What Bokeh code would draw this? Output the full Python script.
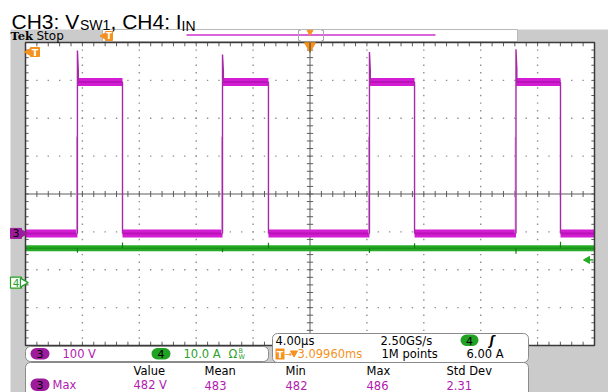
import numpy as np
from bokeh.plotting import figure
from bokeh.models import Range1d
from bokeh.core.properties import value
from bokeh.embed import file_html
from bokeh.resources import INLINE

# ---------------- values ----------------
time_scale_us = 4.0          # µs / div
ch3_scale_v = 100.0          # V / div
ch4_scale_a = 10.0           # A / div
ch3_pos_div = -1.04          # ground marker of CH3 (divisions from centre)
ch4_pos_div = -2.34          # ground marker of CH4

rise_us = [-16.35, -6.15, 4.18, 14.48]      # V_SW1 rising edges
fall_us = [-13.18, -2.92, 7.35, 17.61]      # V_SW1 falling edges
vsw_low_v = 0.0
vsw_high_v = 400.0
vsw_spike_v = [483, 472, 479, 486]           # overshoot at each rising edge
vsw_ring_v = [432, 428, 430, 434]
vsw_pre_v = 255.0                            # faint pre-edge step

iin_a = 9.1                                  # I_IN level
iin_dip_a = [7.9, 8.0, 7.8, 7.6]             # glitch at rising edges
iin_peak_a = [10.6, 10.5, 10.4, 10.8]        # glitch at falling edges
trig_level_a = 6.0

title_parts = ["CH3: V", "SW1", ", CH4: I", "IN"]
ch_labels = ["100 V", "10.0 A"]
tb_row1 = ["4.00µs", "2.50GS/s"]
tb_row2 = ["3.09960ms", "1M points", "6.00 A"]
meas_headers = ["Value", "Mean", "Min", "Max", "Std Dev"]
meas_values = ["482 V", "483", "482", "486", "2.31"]

# ---------------- colours ----------------
GRAY = "#cbcbcb"
ORANGE = "#f5921e"
MAG = "#d41cd4"
MAG_DARK = "#9c0a9a"
MAG_TXT = "#b01cb0"
MAG_PILL = "#9c1c9c"
GRN = "#26ab26"
GRN_DARK = "#147e14"
GRN_TXT = "#2c9f2c"
GRN_PILL = "#22a222"
FONT = "DejaVu Sans"

# ---------------- layout (pixels) ----------------
W, H = 608, 392
FX0, FX1, FY0, FY1 = 25, 594, 42, 345
pxd_x = (FX1 - FX0) / 10.0
pxd_y = (FY1 - FY0) / 8.0
cx = (FX0 + FX1) / 2.0
cy = (FY0 + FY1) / 2.0

p = figure(width=W, height=H, x_range=Range1d(0, W), y_range=Range1d(H, 0),
           output_backend="svg", toolbar_location=None, min_border=0,
           x_axis_type=None, y_axis_type=None)
p.outline_line_color = None
p.background_fill_color = "white"
p.border_fill_color = "white"

t_lo = (0 - cx) / pxd_x * time_scale_us
t_hi = (W - cx) / pxd_x * time_scale_us
d_bot = (cy - H) / pxd_y
d_top = (cy - 0) / pxd_y
p.extra_x_ranges = {"t": Range1d(t_lo, t_hi)}
p.extra_y_ranges = {
    "div": Range1d(d_bot, d_top),
    "ch3": Range1d((d_bot - ch3_pos_div) * ch3_scale_v, (d_top - ch3_pos_div) * ch3_scale_v),
    "ch4": Range1d((d_bot - ch4_pos_div) * ch4_scale_a, (d_top - ch4_pos_div) * ch4_scale_a),
}
T0, T1 = -5 * time_scale_us, 5 * time_scale_us


def txt(x, y, s, color="black", size=11.5, font=FONT, style="normal",
        align="left", baseline="middle", xr="default", yr="default"):
    p.text(x=[x], y=[y], text=[s], text_color=color, text_font=value(font),
           text_font_size=f"{size}px", text_font_style=style,
           text_align=align, text_baseline=baseline,
           x_range_name=xr, y_range_name=yr)


# ---------------- backgrounds ----------------
p.quad(left=10, right=W, top=29, bottom=H + 5, fill_color=GRAY, line_color=None)
p.quad(left=FX0, right=FX1, top=FY0, bottom=FY1, fill_color="white", line_color=None)
p.quad(left=102, right=517, top=29, bottom=41, fill_color="white", line_color="#b8b8b8", line_width=1)

# ---------------- graticule ----------------
minor_t = np.arange(T0, T1 + 1e-6, time_scale_us / 5)
minor_d = np.arange(-4, 4 + 1e-6, 0.2)
gx, gy = [], []
for k in range(-4, 5):
    if k == 0:
        continue
    for d in minor_d:
        gx.append(k * time_scale_us)
        gy.append(d)
for j in range(-3, 4):
    if j == 0:
        continue
    for t in minor_t:
        gx.append(t)
        gy.append(j)
p.scatter(gx, gy, x_range_name="t", y_range_name="div", marker="square",
          size=1.4, fill_color="#8f8f8f", line_color=None)

p.segment(x0=[T0, 0], y0=[0, -4], x1=[T1, 0], y1=[0, 4], x_range_name="t",
          y_range_name="div", line_color="#5c5c5c", line_width=1)
# ticks on centre lines
p.segment(x0=minor_t, y0=-0.08, x1=minor_t, y1=0.08, x_range_name="t",
          y_range_name="div", line_color="#5c5c5c", line_width=1)
p.segment(x0=-0.22, y0=minor_d, x1=0.22, y1=minor_d, x_range_name="t",
          y_range_name="div", line_color="#5c5c5c", line_width=1)
# ticks on borders
p.segment(x0=minor_t, y0=4, x1=minor_t, y1=3.9, x_range_name="t",
          y_range_name="div", line_color="#5c5c5c", line_width=1)
p.segment(x0=minor_t, y0=-4, x1=minor_t, y1=-3.9, x_range_name="t",
          y_range_name="div", line_color="#5c5c5c", line_width=1)
p.segment(x0=T0, y0=minor_d, x1=T0 + 0.22, y1=minor_d, x_range_name="t",
          y_range_name="div", line_color="#5c5c5c", line_width=1)
p.segment(x0=T1, y0=minor_d, x1=T1 - 0.22, y1=minor_d, x_range_name="t",
          y_range_name="div", line_color="#5c5c5c", line_width=1)

# ---------------- CH4 : I_IN ----------------
p.line([T0, T1], [iin_a, iin_a], x_range_name="t", y_range_name="ch4",
       line_color=GRN, line_width=6)
p.line([T0, T1], [iin_a, iin_a], x_range_name="t", y_range_name="ch4",
       line_color=GRN_DARK, line_width=1.5, line_alpha=0.55)
gl_x = [[r, r] for r in rise_us] + [[f, f] for f in fall_us]
gl_y = [[iin_a, a] for a in iin_dip_a] + [[iin_a, a] for a in iin_peak_a]
p.multi_line(gl_x, gl_y, x_range_name="t", y_range_name="ch4",
             line_color=GRN_DARK, line_width=1.2)

# ---------------- CH3 : V_SW1 ----------------
low_xs = [[T0, rise_us[0]]] + [[fall_us[i], rise_us[i + 1]] for i in range(len(rise_us) - 1)] \
    + [[fall_us[-1], T1]]
low_ys = [[vsw_low_v, vsw_low_v] for _ in low_xs]
high_xs = [[r, f] for r, f in zip(rise_us, fall_us)]
high_ys = [[vsw_high_v, vsw_high_v] for _ in high_xs]
for xs, ys in ((low_xs, low_ys), (high_xs, high_ys)):
    p.multi_line(xs, ys, x_range_name="t", y_range_name="ch3", line_color=MAG, line_width=8)
    p.multi_line(xs, ys, x_range_name="t", y_range_name="ch3", line_color=MAG_DARK,
                 line_width=2, line_alpha=0.5)
pre_x = [[r - 0.06, r - 0.06] for r in rise_us]
pre_y = [[vsw_low_v, vsw_pre_v] for _ in rise_us]
p.multi_line(pre_x, pre_y, x_range_name="t", y_range_name="ch3", line_color="#d9a0d9", line_width=1)
edge_x, edge_y = [], []
for r, f, s, g in zip(rise_us, fall_us, vsw_spike_v, vsw_ring_v):
    edge_x.append([r, r, r + 0.06, r + 0.06])
    edge_y.append([vsw_low_v, s, g, vsw_high_v])
    edge_x.append([f, f])
    edge_y.append([vsw_high_v, vsw_low_v])
p.multi_line(edge_x, edge_y, x_range_name="t", y_range_name="ch3", line_color="#a52aa5", line_width=1.4)

# frame border
p.quad(left=T0, right=T1, top=4, bottom=-4, x_range_name="t", y_range_name="div",
       fill_color=None, line_color="#3a3a3a", line_width=1.5)

# ---------------- markers ----------------
# CH3 ground marker
p.rect(x=[15.5], y=[vsw_low_v], width=11, height=10, height_units="screen",
       y_range_name="ch3", fill_color=MAG_PILL, line_color=MAG_PILL)
p.scatter(x=[22], y=[vsw_low_v], y_range_name="ch3", marker="triangle", size=9,
          angle=-np.pi / 2, fill_color=MAG_PILL, line_color=MAG_PILL)
txt(15.5, vsw_low_v, "3", color="black", size=10.5, align="center", yr="ch3")
# CH4 ground marker
p.rect(x=[15.5], y=[0.0], width=11, height=11, height_units="screen",
       y_range_name="ch4", fill_color="white", line_color=GRN_PILL, line_width=1.2)
p.scatter(x=[22.5], y=[0.0], y_range_name="ch4", marker="triangle", size=9,
          angle=-np.pi / 2, fill_color="white", line_color=GRN_PILL, line_width=1.2)
txt(15.5, 0.0, "4", color=GRN_TXT, size=10.5, align="center", yr="ch4")
# trigger level arrow (right)
p.scatter(x=[587], y=[trig_level_a], y_range_name="ch4", marker="triangle", size=7,
          angle=np.pi / 2, fill_color=GRN, line_color=GRN)
p.segment(x0=[588], y0=[trig_level_a], x1=[593], y1=[trig_level_a], y_range_name="ch4",
          line_color=GRN, line_width=1.5)
# trigger position (t=0) at top of graticule
p.scatter(x=[0.0], y=[45.5], x_range_name="t", marker="inverted_triangle", size=11,
          fill_color=ORANGE, line_color=ORANGE)
p.segment(x0=[0.0], y0=[FY0], x1=[0.0], y1=[52], x_range_name="t",
          line_color="#3a3a3a", line_width=1)

# T flag inside the graticule
p.quad(left=[30], right=[39], top=[47], bottom=[56], fill_color=ORANGE, line_color=ORANGE)
p.scatter(x=[29], y=[51.5], marker="triangle", size=9, angle=np.pi / 2,
          fill_color=ORANGE, line_color=ORANGE)
txt(34.5, 51.8, "T", color="white", size=9.5, style="bold", align="center")
# T flag in record bar
p.quad(left=[105], right=[112], top=[31], bottom=[40], fill_color=ORANGE, line_color=ORANGE)
p.scatter(x=[104], y=[35.5], marker="triangle", size=8, angle=np.pi / 2,
          fill_color=ORANGE, line_color=ORANGE)
txt(108.5, 35.8, "T", color="white", size=8.5, style="bold", align="center")

# record view
p.segment(x0=[186], y0=[34.5], x1=[435], y1=[34.5], line_color="#cc33cc", line_width=1.5)
p.multi_line([[300, 298, 298, 300], [321, 323, 323, 321]], [[30, 30, 40, 40], [30, 30, 40, 40]],
             line_color="#a8a8a8", line_width=1)
p.scatter(x=[0.0], y=[31.5], x_range_name="t", marker="inverted_triangle", size=6,
          fill_color=ORANGE, line_color=ORANGE)

# ---------------- text: title & status ----------------
txt(11, 21, title_parts[0], size=21, font="Liberation Sans", baseline="alphabetic")
txt(79.5, 24.5, title_parts[1], size=14, font="Liberation Sans", baseline="alphabetic")
txt(110, 21, title_parts[2], size=21, font="Liberation Sans", baseline="alphabetic")
txt(181, 25, title_parts[3], size=14, font="Liberation Sans", baseline="alphabetic")

txt(10, 35.5, "Tek", size=11.5, font="DejaVu Serif", style="bold")
txt(36, 35.5, "Stop", size=12)

# ---------------- bottom boxes ----------------
box_kw = dict(fill_color="white", line_color="#8a8a8a", line_width=1, border_radius=5)
p.quad(left=[25], right=[268], top=[346], bottom=[361], **box_kw)
p.quad(left=[25], right=[528], top=[362], bottom=[398], **box_kw)
p.quad(left=[272], right=[528], top=[333], bottom=[362], **box_kw)

# channel box
p.quad(left=[30], right=[49], top=[347.5], bottom=[359], fill_color=MAG_PILL,
       line_color=None, border_radius=6)
txt(39.5, 353.5, "3", size=11, align="center")
txt(62, 353.5, ch_labels[0], color=MAG_TXT, size=11.5)
p.quad(left=[151], right=[170], top=[347.5], bottom=[359], fill_color=GRN_PILL,
       line_color=None, border_radius=6)
txt(160.5, 353.5, "4", size=11, align="center")
txt(183, 353.5, ch_labels[1], color=GRN_TXT, size=11.5)
txt(228, 353.5, "Ω", color=GRN_TXT, size=11.5)
txt(238, 350, "B", color=GRN_TXT, size=6.5)
txt(238, 356.5, "W", color=GRN_TXT, size=6.5)

# timebase box
txt(275, 340, tb_row1[0], size=11.5)
txt(380, 340, tb_row1[1], size=11.5)
p.quad(left=[460], right=[478], top=[334], bottom=[345.5], fill_color=GRN_PILL,
       line_color=None, border_radius=6)
txt(469, 340, "4", size=11, align="center")
txt(489, 340, "ʃ", size=12, style="bold italic")
p.quad(left=[275], right=[284], top=[348], bottom=[359], fill_color=ORANGE, line_color=None)
txt(279.5, 353.8, "T", color="white", size=9.5, style="bold", align="center")
txt(284, 353.5, "→", color=ORANGE, size=9)
p.scatter(x=[293.5], y=[352.5], marker="inverted_triangle", size=7,
          fill_color=ORANGE, line_color=ORANGE)
txt(297, 353.5, tb_row2[0], color=ORANGE, size=11.5)
txt(381, 353.5, tb_row2[1], size=11.5)
txt(466, 353.5, tb_row2[2], size=11.5)

# measurement box
meas_x = [133, 204, 285, 366, 446]
for x, h, v in zip(meas_x, meas_headers, meas_values):
    txt(x, 370, h, size=11.5)
    txt(x, 384.5, v, color=MAG_TXT, size=11.5)
p.quad(left=[30], right=[49], top=[378], bottom=[390.5], fill_color=MAG_PILL,
       line_color=None, border_radius=6)
txt(39.5, 384.5, "3", size=11, align="center")
txt(52, 384.5, "Max", color=MAG_TXT, size=11.5)

open("out.html", "w").write(file_html(p, INLINE))
